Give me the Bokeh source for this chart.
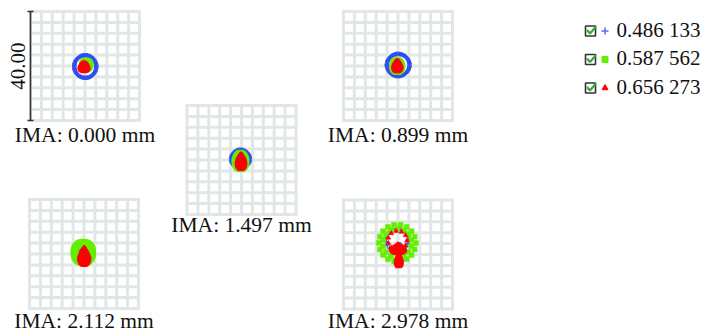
import math
from bokeh.plotting import figure
from bokeh.models import Range1d
from bokeh.embed import file_html
from bokeh.resources import INLINE
from bokeh.core.properties import value

# ---------------- data ----------------
field_labels = ["IMA: 0.000 mm", "IMA: 0.899 mm", "IMA: 1.497 mm",
                "IMA: 2.112 mm", "IMA: 2.978 mm"]
wavelength_labels = ["0.486 133", "0.587 562", "0.656 273"]
scale_bar_um = 40.0
scale_bar_label = "40.00"
grid_divisions = 10

# spot components per field, in micrometres relative to the chief ray:
# (dx, dy, rx, ry, inner_fraction, taper_top, ray_spacing)
blue_spots = [
    [(0.1, -0.2, 4.05, 4.15, 1.0, 0.0, 0.3)],
    [(0.07, 0.37, 4.15, 4.05, 1.0, 0.0, 0.3)],
    [(-0.37, 0.37, 3.45, 3.4, 0.0, 0.0, 0.4)],
    [(-0.1, 0.8, 2.3, 2.5, 0.0, 0.0, 0.4)],
    [(-0.3, 5.4, 4.15, 4.15, 1.0, 0.0, 1.4), (0.7, 2.7, 0.6, 1.0, 0.0, 0.0, 0.5)],
]
green_spots = [
    [(0.45, 0.45, 1.6, 1.6, 0.0, 0.0, 0.4)],
    [(-0.3, -0.07, 1.85, 2.2, 0.0, 0.0, 0.4)],
    [(-0.37, -0.37, 2.2, 3.0, 0.0, 0.15, 0.4)],
    [(-0.26, 0.55, 3.6, 3.95, 0.8, 0.0, 0.4)],
    [(-0.26, 4.2, 6.8, 6.8, 0.78, 0.0, 2.4)],
]
red_spots = [
    [(-0.35, -0.45, 1.5, 1.55, 0.0, 0.0, 0.4)],
    [(-0.26, -0.1, 1.35, 1.9, 0.0, 0.15, 0.4)],
    [(-0.18, -0.66, 1.4, 2.65, 0.0, 0.3, 0.4)],
    [(0.07, -0.92, 1.7, 3.1, 0.0, 0.6, 0.4)],
    [(-0.2, 5.15, 3.5, 3.5, 1.0, 0.0, 2.0), (0.0, 2.0, 2.4, 1.6, 0.0, 0.85, 0.4),
     (0.3, -2.45, 0.9, 1.9, 0.0, 0.0, 0.4)],
]

# ---------------- layout ----------------
W, H = 703, 331
S = 109.0 / scale_bar_um          # screen px per micrometre

def px(X, Y):
    """page pixel position -> data coordinates (um)"""
    return X / S, -Y / S

panel_centers_px = [(84.5, 65.5), (397.5, 65.5), (241.0, 159.5), (83.5, 253.5), (397.5, 254.0)]
label_baselines_px = [134.0, 134.0, 224.5, 320.0, 320.0]

p = figure(width=W, height=H, output_backend="svg", toolbar_location=None,
           x_range=Range1d(0, W / S), y_range=Range1d(-H / S, 0),
           x_axis_type=None, y_axis_type=None, min_border=0)
p.outline_line_color = None
p.background_fill_color = "white"
p.border_fill_color = "white"

GRID_COLOR = "#e1e7e7"
FONT = value("Liberation Serif")
half = scale_bar_um / 2
step = scale_bar_um / grid_divisions

# grids
x0s, y0s, x1s, y1s = [], [], [], []
for (cxp, cyp) in panel_centers_px:
    cx, cy = px(cxp, cyp)
    for k in range(grid_divisions + 1):
        g = -half + k * step
        x0s += [cx + g, cx - half]
        y0s += [cy - half, cy + g]
        x1s += [cx + g, cx + half]
        y1s += [cy + half, cy + g]
p.segment(x0s, y0s, x1s, y1s, line_color=GRID_COLOR, line_width=3, line_cap="square")


def spot_points(comp, cx, cy):
    dx, dy, rx, ry, inner, taper, sp = comp
    r_ref = max(rx, ry)
    xs, ys = [], []
    if inner >= 1.0:
        fracs = [1.0]
    else:
        n_r = max(1, round(r_ref * (1 - inner) / sp))
        fracs = [1 - i * (1 - inner) / n_r for i in range(n_r + 1)]
    for i, f in enumerate(fracs):
        if f <= 1e-6:
            xs.append(cx + dx)
            ys.append(cy + dy)
            continue
        n = max(6, round(2 * math.pi * f * r_ref / sp))
        for j in range(n):
            t = 2 * math.pi * (j + 0.5 * (i % 2)) / n
            u, v = f * math.cos(t), f * math.sin(t)
            m = 1 - taper * max(v, 0.0)
            xs.append(cx + dx + rx * u * m)
            ys.append(cy + dy + ry * v)
    return xs, ys


styles = [
    (blue_spots, dict(marker="cross", size=4.5, line_color="#2f4ef0", line_width=1.2)),
    (green_spots, dict(marker="square", size=5, fill_color="#66ee00", line_color="#66ee00", line_width=0.5)),
    (red_spots, dict(marker="triangle", size=5, fill_color="#ff0000", line_color="#ff0000", line_width=0.5)),
]
for spots, st in styles:
    xs_all, ys_all = [], []
    for fi, comps in enumerate(spots):
        cx, cy = px(*panel_centers_px[fi])
        for comp in comps:
            xs, ys = spot_points(comp, cx, cy)
            xs_all += xs
            ys_all += ys
    p.scatter(xs_all, ys_all, **st)

# field labels
lx, ly = [], []
for (cxp, _), by in zip(panel_centers_px, label_baselines_px):
    x, y = px(cxp, by)
    lx.append(x)
    ly.append(y)
p.text(lx, ly, text=field_labels, text_font=FONT, text_font_size="21.5px",
       text_align="center", text_baseline="alphabetic", text_color="#111111")

# scale bar on first panel
cx0, cy0 = px(*panel_centers_px[0])
bx = cx0 - half
cap = 3.0 / S
p.segment([bx, bx - cap, bx - cap], [cy0 - half, cy0 + half, cy0 - half],
          [bx, bx + cap, bx + cap], [cy0 + half, cy0 + half, cy0 - half],
          line_color="#333333", line_width=1.6)
tx, ty = px(17.5, 65.5)
p.text([tx], [ty], text=[scale_bar_label], angle=math.pi / 2, text_font=FONT,
       text_font_size="21px", text_align="center", text_baseline="middle",
       text_color="#111111")

# legend
leg_baselines = [36.5, 65.0, 93.5]
leg_markers = [dict(marker="cross", size=7, line_color="#5a6cff", line_width=1.5),
               dict(marker="square", size=6, fill_color="#66ee00", line_color="#66ee00"),
               dict(marker="triangle", size=6, fill_color="#ff0000", line_color="#ff0000")]
for i, (lab, by) in enumerate(zip(wavelength_labels, leg_baselines)):
    bxp, byp = px(590, by - 6)
    p.rect([bxp], [byp], width=10, height=10, width_units="screen", height_units="screen",
           fill_color="white", line_color="#333333", line_width=1.6)
    c = [px(586.5, by - 7), px(589.5, by - 3.5), px(595.5, by - 10.5)]
    p.line([q[0] for q in c], [q[1] for q in c], line_color="#3aa63a", line_width=2.2)
    mx, my = px(604.5, by - 6)
    p.scatter([mx], [my], **leg_markers[i])
    tx, ty = px(616, by - 7.5)
    p.text([tx], [ty], text=[lab], text_font=FONT, text_font_size="21px",
           text_align="left", text_baseline="alphabetic", text_color="#111111")

open("out.html", "w").write(file_html(p, INLINE))
